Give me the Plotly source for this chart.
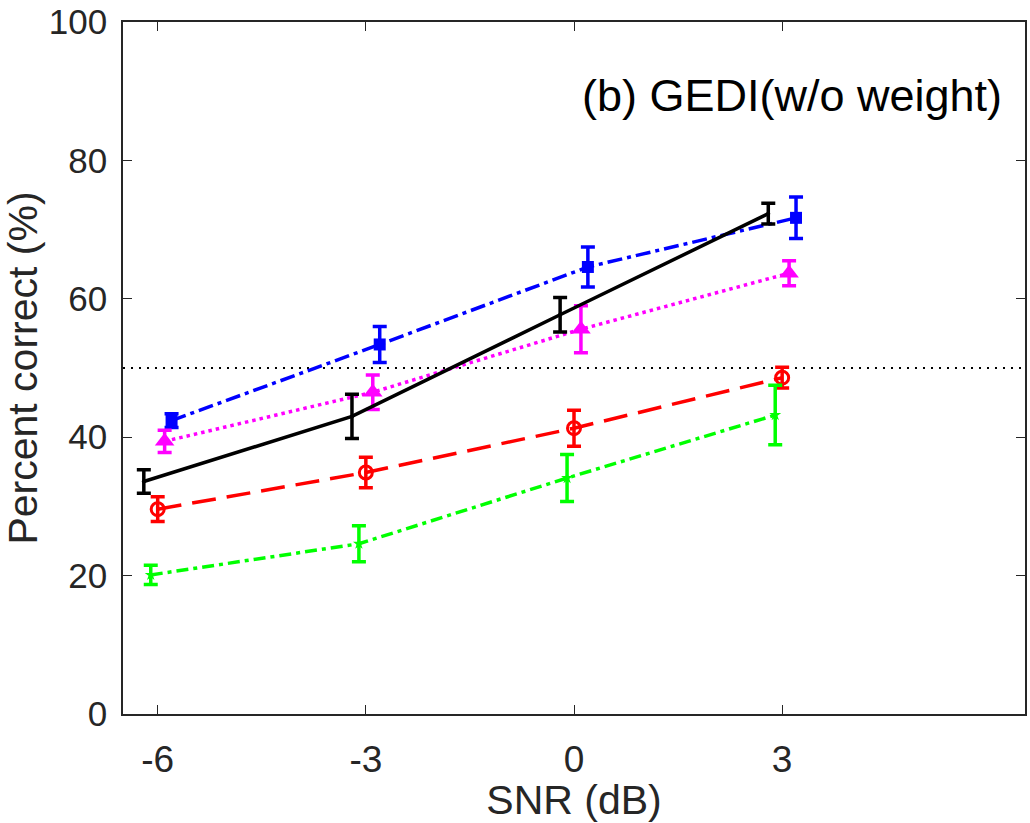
import plotly.graph_objects as go

snr = [-6, -3, 0, 3]

black_y = [33.6, 43.0, 57.7, 72.3]
black_err = [1.7, 3.2, 2.5, 1.5]
green_y = [20.1, 24.6, 34.1, 43.2]
green_err = [1.4, 2.6, 3.4, 4.3]
red_y = [29.6, 34.9, 41.3, 48.6]
red_err = [1.8, 2.2, 2.6, 1.5]
magenta_y = [39.4, 46.5, 55.6, 63.7]
magenta_err = [1.6, 2.5, 3.4, 1.8]
blue_y = [42.4, 53.4, 64.6, 71.7]
blue_err = [1.0, 2.6, 2.9, 3.0]

x_ticks = [-6, -3, 0, 3]
x_tick_labels = ["-6", "-3", "0", "3"]
y_ticks = [0, 20, 40, 60, 80, 100]

FONT = "Liberation Sans, Arial, Helvetica, sans-serif"
AX = "#262626"

series = [
    # name, y, err, offset, color, dash, marker symbol, marker size
    ("blue", blue_y, blue_err, 0.2, "#0000ff", "15px,5px,4px,5px", "square", 12),
    ("magenta", magenta_y, magenta_err, 0.1, "#ff00ff", "3.5px,4px", "triangle-up", 17),
    ("red", red_y, red_err, 0.0, "#ff0000", "24px,11px", "circle-open", 13),
    ("green", green_y, green_err, -0.1, "#00ff00", "12px,5px,4px,5px", "star", 9),
    ("black", black_y, black_err, -0.2, "#000000", "solid", "circle", 4),
]

fig = go.Figure()

# 50% reference line
fig.add_shape(type="line", xref="paper", yref="y", x0=0, x1=1, y0=50, y1=50,
              line=dict(color="black", width=2, dash="2px,6px"), layer="below")

for name, y, err, off, color, dash, sym, msize in series:
    xs = [v + off for v in snr]
    mk = dict(symbol=sym, size=msize, color=color)
    if sym.endswith("open"):
        mk["line"] = dict(color=color, width=3)
    fig.add_trace(go.Scatter(
        x=xs, y=y, name=name, mode="lines+markers",
        line=dict(color=color, width=3.5, dash=dash),
        marker=mk,
        error_y=dict(type="data", array=err, visible=True, color=color,
                     thickness=3.5, width=7),
        showlegend=False,
    ))

fig.add_annotation(text="(b) GEDI(w/o weight)", xref="paper", yref="paper",
                   x=0.977, y=0.894, xanchor="right", yanchor="middle",
                   showarrow=False, font=dict(family=FONT, size=45, color="black"))

fig.update_layout(
    width=1030, height=823,
    margin=dict(l=123, r=5, t=22, b=109, autoexpand=False),
    paper_bgcolor="white", plot_bgcolor="white",
    font=dict(family=FONT, color=AX),
)

fig.update_xaxes(
    range=[-6.5, 6.5], tickvals=x_ticks, ticktext=x_tick_labels,
    ticks="inside", ticklen=9, tickwidth=1.2, tickcolor=AX,
    showline=True, linecolor=AX, linewidth=1.5, mirror="ticks",
    showgrid=False, zeroline=False, automargin=False,
    tickfont=dict(family=FONT, size=37, color=AX),
    ticklabelstandoff=12, ticklabeloverflow="allow",
    title=dict(text="SNR (dB)", font=dict(family=FONT, size=41, color=AX), standoff=8),
)
fig.update_yaxes(
    range=[0, 100], tickvals=y_ticks,
    ticks="inside", ticklen=9, tickwidth=1.2, tickcolor=AX,
    showline=True, linecolor=AX, linewidth=1.5, mirror="ticks",
    showgrid=False, zeroline=False, automargin=False,
    tickfont=dict(family=FONT, size=35, color=AX),
    ticklabelstandoff=7, ticklabeloverflow="allow",
    title=dict(text="Percent correct (%)", font=dict(family=FONT, size=41, color=AX), standoff=13),
)

fig.write_html("out.html")
